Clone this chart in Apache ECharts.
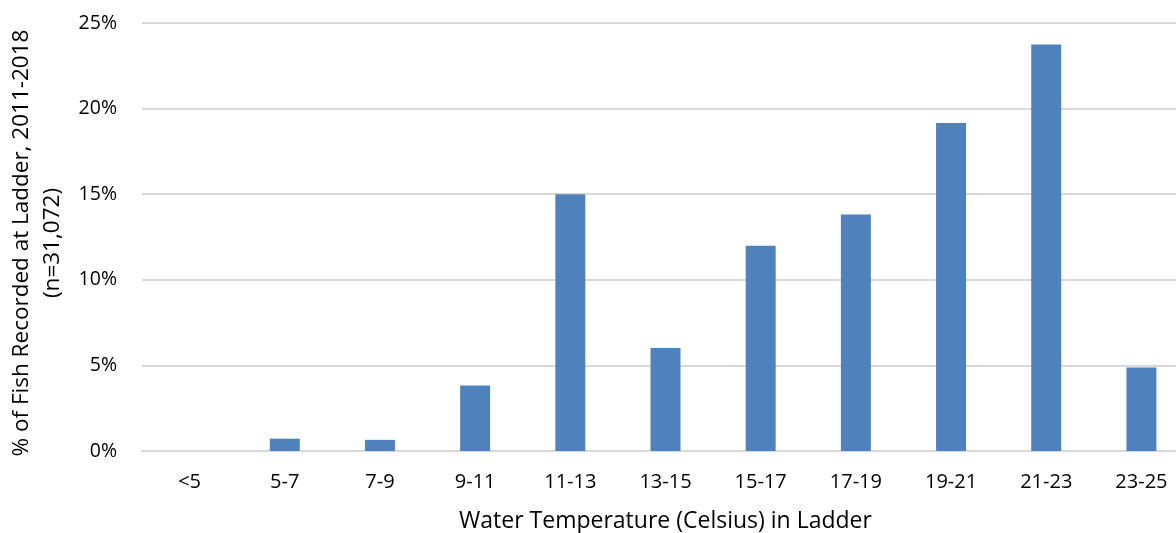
<!DOCTYPE html>
<html>
<head>
<meta charset="utf-8">
<title>Fish at Ladder by Water Temperature</title>
<script src="https://cdn.jsdelivr.net/npm/echarts@6/dist/echarts.min.js"></script>
<style>
  html, body { margin: 0; padding: 0; background: #ffffff; }
  #chart { width: 1176px; height: 533px; }
</style>
</head>
<body>
<div id="chart"></div>
<script>
// Temperature bins (°C) and share of fish recorded in each (%)
const categories = ['<5', '5-7', '7-9', '9-11', '11-13', '13-15', '15-17', '17-19', '19-21', '21-23', '23-25'];
const percentFish = [0, 0.72, 0.65, 3.83, 15.0, 6.01, 11.99, 13.81, 19.16, 23.74, 4.88];

const yTitle = '% of Fish Recorded at Ladder, 2011-2018\n(n=31,072)';
const xTitle = 'Water Temperature (Celsius) in Ladder';

const FONT = '"Open Sans", "Noto Sans", sans-serif';
const chart = echarts.init(document.getElementById('chart'), null, { renderer: 'canvas' });

chart.setOption({
  animation: false,
  backgroundColor: '#ffffff',
  // plot area runs a little past the right edge of the canvas
  grid: { left: 142, top: 23, width: 1047, height: 428, containLabel: false, outerBoundsMode: 'none' },
  xAxis: {
    type: 'category',
    data: categories,
    name: xTitle,
    nameLocation: 'middle',
    nameGap: 59,
    nameTextStyle: { fontFamily: FONT, fontSize: 23, color: '#000000' },
    axisLine: { show: true, lineStyle: { color: '#d9d9d9', width: 2 } },
    axisTick: { show: false },
    axisLabel: { margin: 21, fontFamily: FONT, fontSize: 20, color: '#000000', interval: 0 }
  },
  yAxis: {
    type: 'value',
    min: 0,
    max: 25,
    interval: 5,
    name: yTitle,
    nameLocation: 'middle',
    nameRotate: 90,
    nameGap: 69,
    nameTextStyle: { fontFamily: FONT, fontSize: 22.5, color: '#000000', lineHeight: 31, padding: [0, 12, 0, 0] },
    axisLine: { show: false },
    axisTick: { show: false },
    axisLabel: { margin: 25, fontFamily: FONT, fontSize: 19.5, color: '#000000', formatter: '{value}%' },
    splitLine: { lineStyle: { color: '#d9d9d9', width: 2 } }
  },
  series: [{
    type: 'bar',
    data: percentFish,
    barWidth: '31.5%',
    itemStyle: { color: '#4f81bd' }
  }]
});
</script>
</body>
</html>
